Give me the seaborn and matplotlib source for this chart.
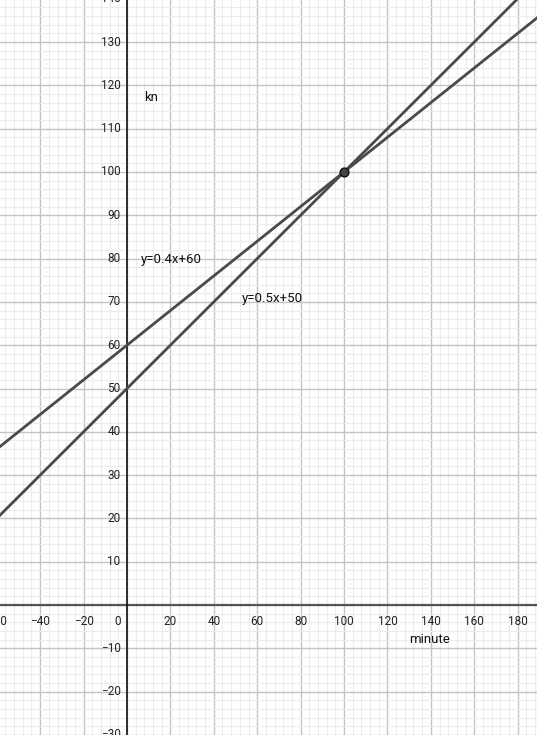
import numpy as np
import pandas as pd
import matplotlib.pyplot as plt
import seaborn as sns
from matplotlib.ticker import MultipleLocator

# two lines through (100, 100)
x_pts = [-60, 190]
y_a = [36, 136]     # y=0.4x+60
y_b = [20, 145]     # y=0.5x+50
px = [100]
py = [100]

x_ticks = [-60, -40, -20, 20, 40, 60, 80, 100, 120, 140, 160, 180]
y_ticks = [-30, -20, -10, 10, 20, 30, 40, 50, 60, 70, 80, 90, 100, 110, 120, 130, 140]

sns.set_style("white")
plt.rcParams['font.family'] = ['Roboto', 'DejaVu Sans']

df = pd.DataFrame({'x': x_pts * 2, 'y': y_a + y_b, 'line': ['a', 'a', 'b', 'b']})

fig = plt.figure(figsize=(5.37, 7.35), dpi=100)
ax = fig.add_axes([0, 0, 1, 1])

ax.set_xlim(-58.5, 188.9)
ax.set_ylim(-30.0, 139.7)

# grid
ax.xaxis.set_major_locator(MultipleLocator(20))
ax.xaxis.set_minor_locator(MultipleLocator(4))
ax.yaxis.set_major_locator(MultipleLocator(10))
ax.yaxis.set_minor_locator(MultipleLocator(2))
ax.grid(which='minor', color='#ececec', lw=0.8)
ax.grid(which='major', color='#c4c4c4', lw=1.0)
ax.set_axisbelow(True)
ax.tick_params(which='both', length=0, labelbottom=False, labelleft=False)
for s in ax.spines.values():
    s.set_visible(False)

ax.axhline(0, color='#555555', lw=1.6, zorder=2)
ax.axvline(0, color='#111111', lw=1.2, zorder=2)

sns.lineplot(data=df, x='x', y='y', units='line', estimator=None,
             color='#4a4a4a', lw=2, ax=ax, zorder=3)
sns.scatterplot(x=px, y=py, color='#444444', edgecolor='#111111', s=40,
                linewidth=1, ax=ax, zorder=4)
ax.set_xlabel('')
ax.set_ylabel('')

for t in x_ticks:
    ax.text(t, -2.2, str(t).replace('-', '\u2212'), ha='center', va='top', fontsize=8.5, color='#222222')
for t in y_ticks:
    ax.text(-3, t, str(t).replace('-', '\u2212'), ha='right', va='center', fontsize=8.5, color='#222222')
ax.text(-3, -2.2, '0', ha='right', va='top', fontsize=8.5, color='#222222')

ax.text(8, 117.3, 'kn', ha='left', va='center', fontsize=9.5, color='#111111')
ax.text(6.5, 79.7, 'y=0.4x+60', ha='left', va='center', fontsize=9.5, color='#111111')
ax.text(53, 70.7, 'y=0.5x+50', ha='left', va='center', fontsize=9.5, color='#111111')
ax.text(130, -8, 'minute', ha='left', va='center', fontsize=9.5, color='#111111')

fig.savefig('out.png', dpi=100)
